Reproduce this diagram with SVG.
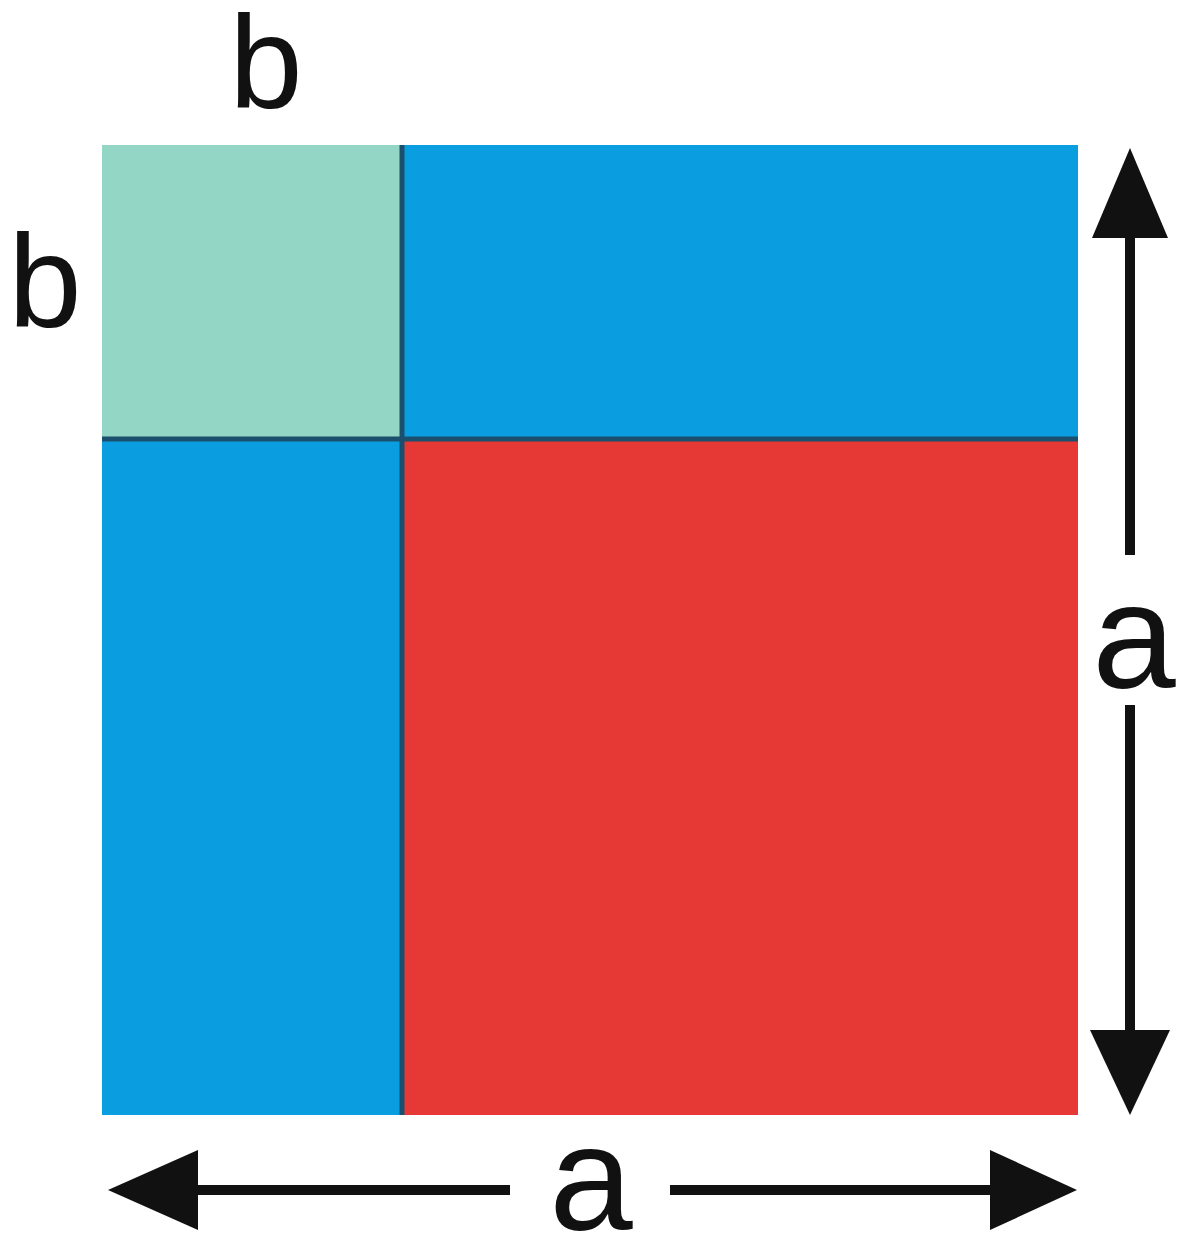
<svg xmlns="http://www.w3.org/2000/svg" width="1179" height="1242" viewBox="0 0 1179 1242">
<style>
.lbl{font-family:"Liberation Sans",Arial,sans-serif;fill:#111;text-anchor:middle}
.ln{stroke:#111;stroke-width:10;fill:none}
.hd{fill:#111}
</style>
<rect width="1179" height="1242" fill="#fff"/>
<g id="square">
<rect id="bb" x="102" y="145" width="299" height="292" fill="#94d6c5"/>
<rect id="ab-top" x="401" y="145" width="677" height="292" fill="#0a9ee0"/>
<rect id="ab-left" x="102" y="437" width="299" height="678" fill="#0a9ee0"/>
<rect id="aa" x="401" y="437" width="677" height="678" fill="#e63834"/>
<line x1="402" y1="145" x2="402" y2="1115" stroke="#1b4f6e" stroke-width="5"/>
<line x1="102" y1="439" x2="1078" y2="439" stroke="#1b4f6e" stroke-width="5"/>
</g>
<g id="connectors">
<line class="ln" x1="1130" y1="225" x2="1130" y2="555"/>
<line class="ln" x1="1130" y1="705" x2="1130" y2="1040"/>
<polygon class="hd" points="1130,148 1092,238 1168,238"/>
<polygon class="hd" points="1130,1115 1090,1030 1170,1030"/>
<line class="ln" x1="180" y1="1190" x2="510" y2="1190"/>
<line class="ln" x1="670" y1="1190" x2="1000" y2="1190"/>
<polygon class="hd" points="108,1190 198,1150 198,1230"/>
<polygon class="hd" points="1077,1190 990,1150 990,1230"/>
</g>
<g id="labels">
<text class="lbl" x="266" y="108" font-size="132">b</text>
<text class="lbl" x="45" y="327" font-size="132">b</text>
<text class="lbl" x="1134" y="688" font-size="150">a</text>
<text class="lbl" x="591" y="1230" font-size="150">a</text>
</g>
</svg>
